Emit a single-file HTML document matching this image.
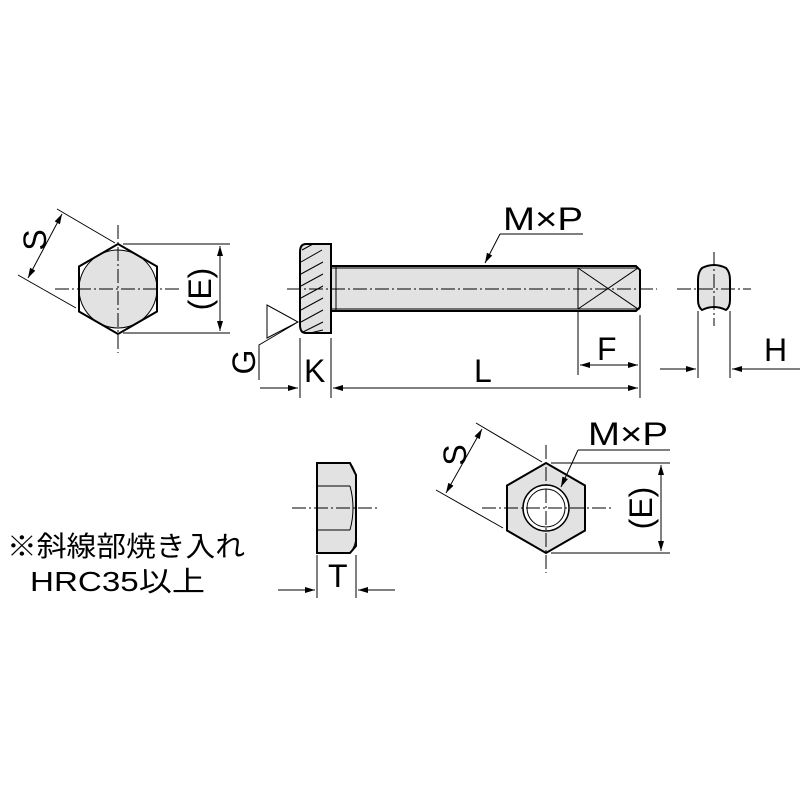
<!DOCTYPE html>
<html><head><meta charset="utf-8"><style>body{margin:0;background:#fff}svg{display:block}text{font-family:"Liberation Sans","Noto Sans CJK JP",sans-serif;fill:#000}</style></head><body>
<svg width="800" height="800" viewBox="0 0 800 800">
<defs><marker id="a" viewBox="0 0 10 6" refX="10" refY="3" markerWidth="14" markerHeight="6" markerUnits="userSpaceOnUse" orient="auto"><path d="M0,0L10,3L0,6z" fill="#000"/></marker></defs>
<g stroke="#000" stroke-width="1" fill="none">
<circle cx="118" cy="289" r="39" fill="#e2e2e2"/>
<polygon points="118,244 157,266.5 157,311.5 118,334 79,311.5 79,266.5" stroke-width="2"/>
<path d="M55,289H182M118,225V353" stroke-dasharray="14,3,2,3"/>
<path d="M123,244H230M123,333H230M57,209L115,243M18,275L76,308"/>
<path d="M220,289V246" marker-end="url(#a)"/><path d="M220,289V331" marker-end="url(#a)"/>
<path d="M45,246L62,214" marker-end="url(#a)"/><path d="M45,246L28,278" marker-end="url(#a)"/>
<path d="M331,266H636L640,270V307L636,311H331Z" fill="#e2e2e2" stroke-width="2"/>
<path d="M306,244H331V333H306Q300,333 300,325V252Q300,244 306,244Z" fill="#e2e2e2" stroke-width="2"/>
<path d="M302,250L313,244M301,262L322,250M301,274L323,262M301,286L323,274M301,298L323,286M301,310L323,298M301,322L323,310M303,332L323,322M310,333L323,330"/>
<path d="M336,266V311M331,268H636M331,309H636"/>
<path d="M578,268V309H640M578,268L638,309M578,309L638,268M578,268H638"/>
<path d="M287,289H657" stroke-dasharray="14,3,2,3"/>
<path d="M702,268Q714,262 726,268Q730,272 730,280V300Q730,307 726,310Q714,304 702,310Q698,307 698,300V280Q698,272 702,268Z" fill="#e2e2e2" stroke-width="2"/>
<path d="M677,289H751M714,252V326" stroke-dasharray="14,3,2,3"/>
<path d="M300,338V398M331,338V398M640,315V398M578,311V375M698,311V378M730,311V378"/>
<path d="M260,388H298" marker-end="url(#a)"/><path d="M370,388H333" marker-end="url(#a)"/>
<path d="M370,388H638" marker-end="url(#a)"/>
<path d="M609,365H580" marker-end="url(#a)"/><path d="M609,365H638" marker-end="url(#a)"/>
<path d="M660,369H696" marker-end="url(#a)"/><path d="M800,369H732" marker-end="url(#a)"/>
<path d="M267,305V338L298,322Z M298,322L259,345V380"/>
<path d="M583,234H500"/><path d="M500,234L485,263" marker-end="url(#a)"/>
<path d="M317,463H350L356,475V546L350,553H317Z" fill="#e2e2e2" stroke-width="2"/>
<path d="M317,486H350M317,530H350M350,463Q356,470 356,480M350,553Q356,546 356,536M350,486Q356,508 350,530"/>
<path d="M292,508H380" stroke-dasharray="14,3,2,3"/>
<path d="M317,555V598M356,555V598"/><path d="M278,590H315" marker-end="url(#a)"/><path d="M395,590H358" marker-end="url(#a)"/>
<polygon points="546,463 585,485.5 585,530.5 546,553 507,530.5 507,485.5" fill="#e2e2e2" stroke-width="2"/>
<circle cx="546" cy="508" r="23" fill="#fff" stroke-width="1.5"/><circle cx="546" cy="508" r="19"/>
<path d="M482,508H612M546,445V573" stroke-dasharray="14,3,2,3"/>
<path d="M551,463H670M551,553H670M476,423L542,462M436,490L503,528"/>
<path d="M661,508V465" marker-end="url(#a)"/><path d="M661,508V551" marker-end="url(#a)"/>
<path d="M464,461L482,429" marker-end="url(#a)"/><path d="M464,461L446,493" marker-end="url(#a)"/>
<path d="M670,450H578"/><path d="M578,450L561,487" marker-end="url(#a)"/>
</g>
<g font-size="32">
<text x="503" y="230" textLength="80" lengthAdjust="spacingAndGlyphs">M×P</text>
<text x="588" y="445" textLength="80" lengthAdjust="spacingAndGlyphs">M×P</text>
<text x="304" y="382">K</text>
<text x="474" y="382">L</text>
<text x="597" y="360">F</text>
<text x="764" y="361">H</text>
<text x="328" y="587">T</text>
<text transform="translate(46,240) rotate(-90)" text-anchor="middle">S</text>
<text transform="translate(466,455) rotate(-90)" text-anchor="middle">S</text>
<text transform="translate(255,362) rotate(-90)" text-anchor="middle">G</text>
<text transform="translate(211,289) rotate(-90)" text-anchor="middle">(E)</text>
<text transform="translate(652,508) rotate(-90)" text-anchor="middle">(E)</text>
</g>
<g font-size="28">
<text x="7" y="556" textLength="238" lengthAdjust="spacingAndGlyphs">※斜線部焼き入れ</text>
<text x="30" y="591" textLength="175" lengthAdjust="spacingAndGlyphs">HRC35以上</text>
</g>
</svg>
</body></html>
